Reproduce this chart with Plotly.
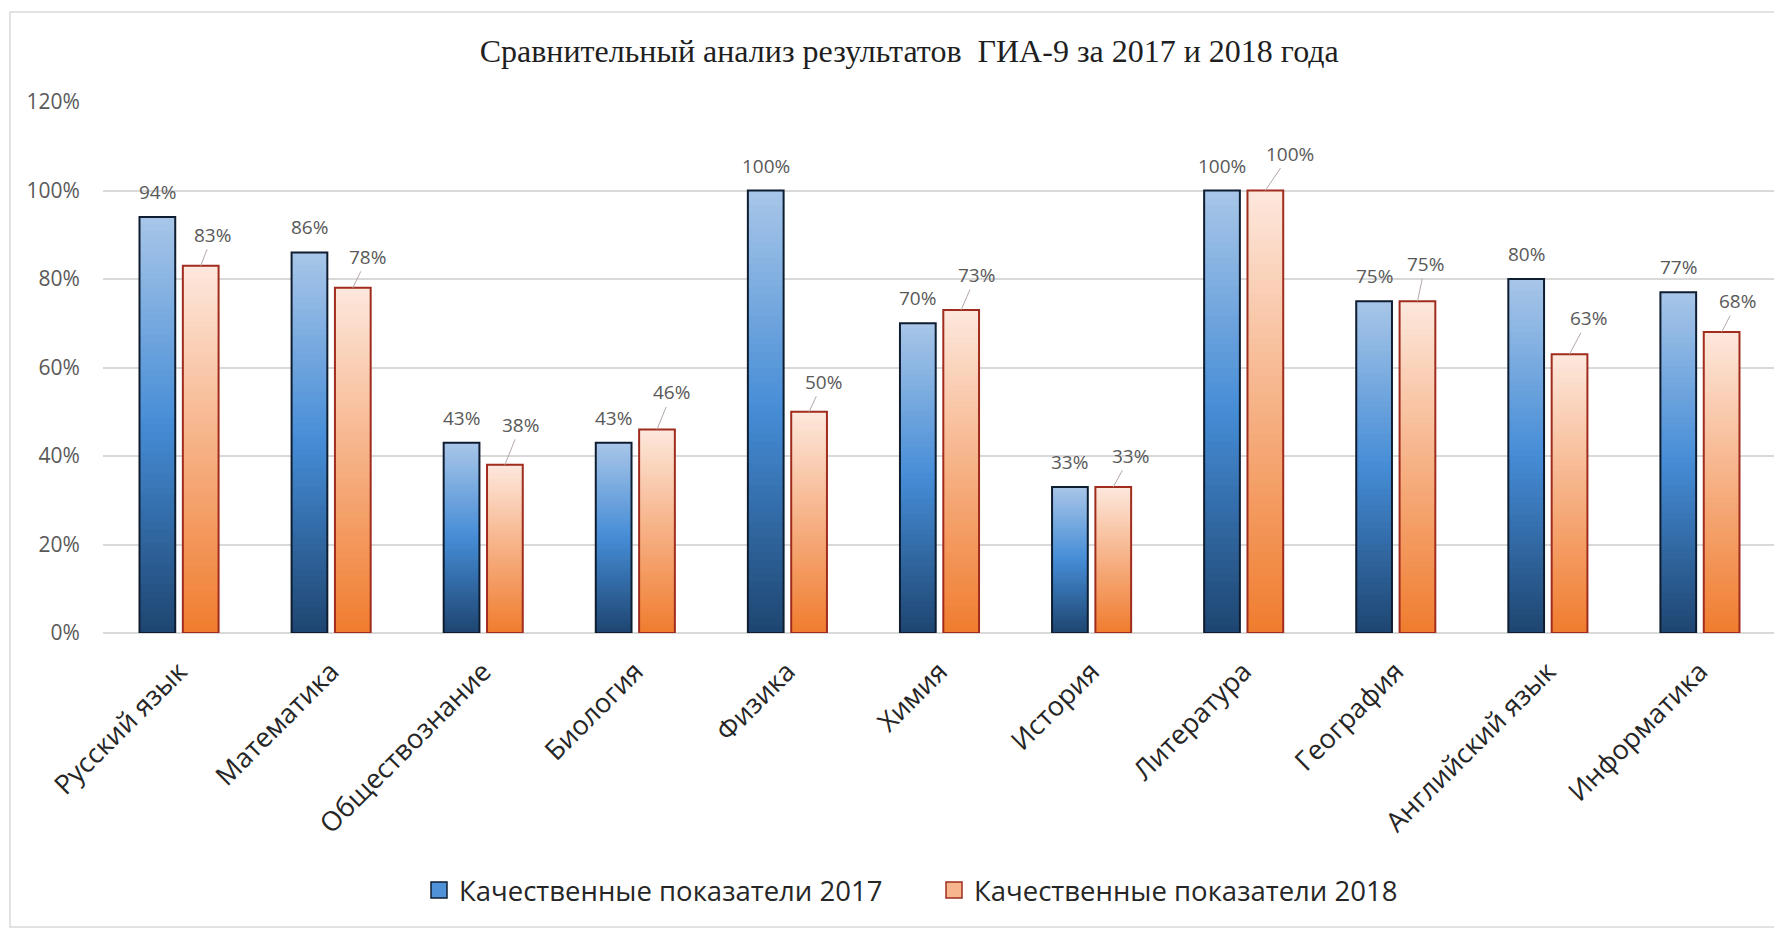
import plotly.graph_objects as go

# ---------------- data ----------------
subjects = ["Русский язык", "Математика", "Обществознание", "Биология", "Физика",
            "Химия", "История", "Литература", "География", "Английский язык", "Информатика"]
quality_2017 = [94, 86, 43, 43, 100, 70, 33, 100, 75, 80, 77]
quality_2018 = [83, 78, 38, 46, 50, 73, 33, 100, 75, 63, 68]
series_names = ["Качественные показатели 2017", "Качественные показатели 2018"]
y_ticks = [0, 20, 40, 60, 80, 100, 120]
title_text = "Сравнительный анализ результатов  ГИА-9 за 2017 и 2018 года"

# ---------------- style ----------------
FIG_W, FIG_H = 1774, 922
M_L, M_R, M_T, M_B = 95, 6, 94, 297
BAR_W = 0.235
OFF_2017 = -0.26
OFF_2018 = 0.025
N_SEG = 60

blue_stops = [(0.0, (0x1e, 0x45, 0x70)), (0.5, (0x45, 0x8c, 0xd6)), (1.0, (0xa8, 0xc6, 0xe8))]
orange_stops = [(0.0, (0xf0, 0x7c, 0x2e)), (0.5, (0xf6, 0xb0, 0x84)), (1.0, (0xfd, 0xe8, 0xdd))]
blue_line = "#0f1d30"
orange_line = "#a02c1e"
label_offsets_2018 = [(12, -31), (15, -31), (16, -40), (15, -37), (14, -30), (15, -35),
                      (17, -31), (25, -37), (8, -37), (19, -36), (16, -31)]


def interp(stops, t):
    for (t0, c0), (t1, c1) in zip(stops[:-1], stops[1:]):
        if t <= t1:
            f = (t - t0) / (t1 - t0)
            c = [round(a + (b - a) * f) for a, b in zip(c0, c1)]
            return "rgb(%d,%d,%d)" % tuple(c)
    return "rgb(%d,%d,%d)" % stops[-1][1]


fig = go.Figure()


def add_series(values, name, offset, stops, line_color):
    # gradient segments (each overlaps the one below it to avoid seams)
    for k in range(N_SEG):
        base = [v * k / N_SEG for v in values]
        seg = [min(2 * v / N_SEG, v - b) for v, b in zip(values, base)]
        fig.add_trace(go.Bar(
            x=subjects, y=seg, base=base,
            offset=offset, width=BAR_W,
            marker=dict(color=interp(stops, (k + 0.5) / N_SEG), line=dict(width=0)),
            hoverinfo="skip", showlegend=False))
    # outline
    fig.add_trace(go.Bar(
        x=subjects, y=values, offset=offset, width=BAR_W, name=name,
        marker=dict(color="rgba(0,0,0,0)", line=dict(color=line_color, width=2)),
        hoverinfo="skip", showlegend=False))
    # legend entry
    fig.add_trace(go.Scatter(
        x=[None], y=[None], mode="markers", name=name,
        marker=dict(symbol="square", size=16, color=interp(stops, 0.55),
                    line=dict(color=line_color, width=1.5)),
        hoverinfo="skip", showlegend=True))


add_series(quality_2017, series_names[0], OFF_2017, blue_stops, blue_line)
add_series(quality_2018, series_names[1], OFF_2018, orange_stops, orange_line)

annotations = []
label_font = dict(family="Open Sans", size=19, color="#595959")
for i, v in enumerate(quality_2017):
    annotations.append(dict(
        x=i + OFF_2017 + BAR_W / 2, y=v, xref="x", yref="y", text=f"{v}%",
        showarrow=False, yshift=25, yanchor="middle", xanchor="center", font=label_font))
for i, v in enumerate(quality_2018):
    ax, ay = label_offsets_2018[i]
    annotations.append(dict(
        x=i + OFF_2018 + BAR_W / 2, y=v, xref="x", yref="y", text=f"{v}%",
        showarrow=True, arrowhead=0, arrowwidth=1, arrowcolor="#b5a8a4", standoff=0,
        ax=ax, ay=ay, axref="pixel", ayref="pixel", font=label_font))

plot_w = FIG_W - M_L - M_R
plot_h = FIG_H - M_T - M_B

fig.update_layout(
    width=FIG_W, height=FIG_H,
    margin=dict(l=M_L, r=M_R, t=M_T, b=M_B, autoexpand=False),
    paper_bgcolor="white", plot_bgcolor="white",
    barmode="overlay",
    title=dict(text=title_text, x=0.508, xanchor="center", y=1 - 43 / FIG_H, yanchor="middle",
               font=dict(family="Liberation Serif", size=32, color="#1f1f1f")),
    xaxis=dict(type="category", categoryorder="array", categoryarray=subjects,
               range=[-0.5, len(subjects) - 0.5], showgrid=False, showline=False, zeroline=False,
               ticks="outside", ticklen=11, tickcolor="rgba(0,0,0,0)", tickangle=-45,
               tickfont=dict(family="Open Sans", size=27, color="#262626")),
    yaxis=dict(range=[0, 120], tickvals=y_ticks, ticktext=[f"{t}%" for t in y_ticks],
               showgrid=True, gridcolor="#d9d9d9", gridwidth=1.5, zeroline=True,
               zerolinecolor="#d9d9d9", zerolinewidth=1.5, showline=False,
               ticks="outside", ticklen=18, tickcolor="rgba(0,0,0,0)",
               tickfont=dict(family="Open Sans", size=21, color="#595959")),
    legend=dict(orientation="h", x=(411 - M_L) / plot_w, xanchor="left",
                y=-(882 - (FIG_H - M_B)) / plot_h, yanchor="middle",
                entrywidth=470, entrywidthmode="pixels", itemsizing="trace",
                font=dict(family="Open Sans", size=27.5, color="#262626"), bgcolor="rgba(0,0,0,0)"),
    annotations=annotations,
    shapes=[dict(type="rect", xref="paper", yref="paper",
                 x0=(2 - M_L) / plot_w, x1=(FIG_W + 20 - M_L) / plot_w,
                 y0=-(919 - (FIG_H - M_B)) / plot_h, y1=1 + (M_T - 4) / plot_h,
                 line=dict(color="#d9d9d9", width=1.5), fillcolor="rgba(0,0,0,0)", layer="below")],
    showlegend=True,
)

fig.write_html("out.html")
